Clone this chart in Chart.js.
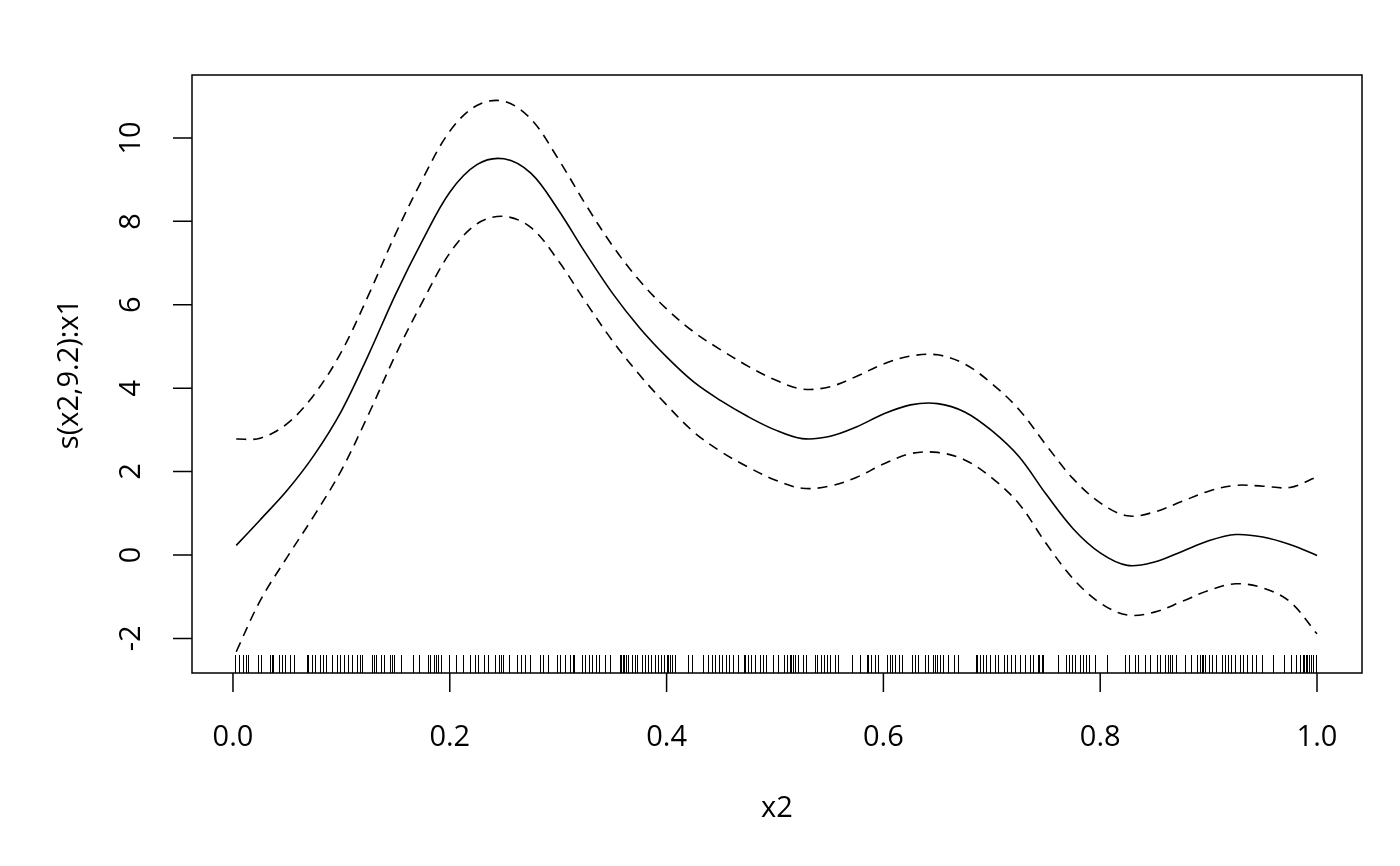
<!DOCTYPE html>
<html><head><meta charset="utf-8">
<script src="https://cdn.jsdelivr.net/npm/chart.js@4.4.0/dist/chart.umd.min.js"></script>
<style>html,body{margin:0;padding:0;background:#fff;overflow:hidden}#wrap{width:1400px;height:866px}</style>
</head><body><div id="wrap"><canvas id="c" width="1400" height="866"></canvas></div>
<script>
const xGrid = [0.003, 0.025, 0.05, 0.075, 0.1, 0.125, 0.15, 0.175, 0.2, 0.225, 0.25, 0.275, 0.3, 0.325, 0.35, 0.375, 0.4, 0.425, 0.45, 0.475, 0.5, 0.525, 0.55, 0.575, 0.6, 0.625, 0.65, 0.675, 0.7, 0.725, 0.75, 0.775, 0.8, 0.825, 0.85, 0.875, 0.9, 0.925, 0.95, 0.975, 1.0];
const fitValues = [0.23, 0.84, 1.55, 2.40, 3.45, 4.80, 6.25, 7.55, 8.70, 9.36, 9.50, 9.15, 8.28, 7.25, 6.28, 5.45, 4.75, 4.15, 3.70, 3.32, 3.00, 2.79, 2.84, 3.07, 3.38, 3.60, 3.63, 3.43, 2.98, 2.36, 1.46, 0.63, 0.05, -0.25, -0.17, 0.08, 0.34, 0.49, 0.43, 0.25, -0.01];
const upperValues = [2.78, 2.80, 3.15, 3.85, 4.87, 6.23, 7.70, 9.02, 10.16, 10.78, 10.88, 10.45, 9.50, 8.42, 7.42, 6.58, 5.90, 5.35, 4.92, 4.53, 4.20, 3.98, 4.03, 4.28, 4.58, 4.77, 4.80, 4.58, 4.11, 3.49, 2.64, 1.83, 1.25, 0.94, 1.03, 1.28, 1.53, 1.67, 1.65, 1.62, 1.87];
const lowerValues = [-2.32, -1.10, -0.05, 0.95, 2.03, 3.37, 4.80, 6.08, 7.24, 7.94, 8.12, 7.85, 7.06, 6.08, 5.14, 4.32, 3.60, 2.95, 2.48, 2.11, 1.80, 1.60, 1.65, 1.86, 2.18, 2.43, 2.46, 2.28, 1.85, 1.23, 0.28, -0.57, -1.15, -1.44, -1.37, -1.12, -0.85, -0.69, -0.79, -1.12, -1.89];
const rugX = [0.002, 0.006, 0.0095, 0.012, 0.014, 0.023, 0.026, 0.034, 0.036, 0.037, 0.042, 0.045, 0.048, 0.053, 0.056, 0.068, 0.069, 0.073, 0.076, 0.080, 0.083, 0.086, 0.091, 0.096, 0.099, 0.102, 0.106, 0.110, 0.114, 0.117,
0.119, 0.128, 0.130, 0.132, 0.137, 0.139, 0.145, 0.147, 0.149, 0.155, 0.166, 0.172, 0.180, 0.182, 0.185, 0.187, 0.189, 0.192, 0.199, 0.206, 0.212, 0.219, 0.223, 0.226, 0.232, 0.235, 0.242, 0.245,
0.247, 0.249, 0.255, 0.262, 0.266, 0.269, 0.274, 0.283, 0.286, 0.291, 0.299, 0.302, 0.306, 0.311, 0.314, 0.315, 0.322, 0.325, 0.328, 0.331, 0.335, 0.338, 0.343, 0.348, 0.357, 0.358, 0.360, 0.361, 0.363, 0.364, 0.368,
0.371, 0.373, 0.377, 0.380, 0.383, 0.386, 0.389, 0.392, 0.395, 0.398, 0.400, 0.401, 0.403, 0.405, 0.408, 0.420, 0.423, 0.434, 0.438, 0.442, 0.445, 0.448, 0.451, 0.455, 0.458, 0.461, 0.466, 0.471, 0.472, 0.475, 0.478, 0.482, 0.486, 0.489, 0.492,
0.498, 0.503, 0.508, 0.511, 0.514, 0.515, 0.517, 0.518, 0.521, 0.526, 0.529, 0.537, 0.539, 0.542, 0.545, 0.548, 0.551, 0.555, 0.558, 0.571, 0.578, 0.585, 0.586, 0.589, 0.592, 0.595, 0.603, 0.606, 0.608, 0.611, 0.614, 0.617,
0.626, 0.629, 0.632, 0.638, 0.641, 0.646, 0.648, 0.649, 0.652, 0.655, 0.660, 0.665, 0.669, 0.685, 0.686, 0.689, 0.692, 0.695, 0.698, 0.703, 0.706, 0.711, 0.714, 0.718, 0.721, 0.726, 0.731, 0.735, 0.738, 0.743,
0.744, 0.746, 0.747, 0.761, 0.768, 0.771, 0.774, 0.777, 0.781, 0.784, 0.787, 0.790, 0.795, 0.806, 0.823, 0.827, 0.832, 0.835, 0.841, 0.846, 0.852, 0.855, 0.860, 0.863, 0.864,
0.866, 0.870, 0.878, 0.884, 0.889, 0.892, 0.894, 0.895, 0.897, 0.900, 0.903, 0.907, 0.912, 0.915, 0.918, 0.921, 0.924, 0.929, 0.932, 0.935, 0.940, 0.944, 0.949, 0.959, 0.970, 0.976, 0.981, 0.984, 0.987, 0.988, 0.990, 0.991, 0.993, 0.994, 0.996, 0.999];
const xTicks = [0, 0.2, 0.4, 0.6, 0.8, 1.0];
const xTickLabels = ["0.0", "0.2", "0.4", "0.6", "0.8", "1.0"];
const yTicks = [-2, 0, 2, 4, 6, 8, 10];
const yTickLabels = ["-2", "0", "2", "4", "6", "8", "10"];
const xTitle = "x2";
const yTitle = "s(x2,9.2):x1";

const FONT = '29px "Open Sans"';

function pts(vals) { return xGrid.map((x, i) => ({ x: x, y: vals[i] })); }

const axesPlugin = {
  id: 'rAxes',
  beforeDraw(chart) {
    const ctx = chart.ctx;
    ctx.save();
    ctx.fillStyle = '#fff';
    ctx.fillRect(0, 0, chart.width, chart.height);
    ctx.restore();
  },
  afterDatasetsDraw(chart) {
    const ctx = chart.ctx, xs = chart.scales.x, a = chart.chartArea;
    ctx.save();
    ctx.strokeStyle = '#000';
    ctx.lineWidth = 1;
    ctx.beginPath();
    rugX.forEach(v => {
      const px = Math.round(xs.getPixelForValue(v)) + 0.5;
      ctx.moveTo(px, a.bottom - 18);
      ctx.lineTo(px, a.bottom);
    });
    ctx.stroke();
    ctx.restore();
  },
  afterDraw(chart) {
    const ctx = chart.ctx, xs = chart.scales.x, ys = chart.scales.y, a = chart.chartArea;
    ctx.save();
    ctx.strokeStyle = '#000';
    ctx.fillStyle = '#000';
    ctx.lineWidth = 1.5;
    ctx.strokeRect(a.left, a.top, a.right - a.left, a.bottom - a.top);
    ctx.font = FONT;
    ctx.textAlign = 'center';
    ctx.textBaseline = 'middle';
    ctx.beginPath();
    xTicks.forEach(v => {
      const px = xs.getPixelForValue(v);
      ctx.moveTo(px, a.bottom);
      ctx.lineTo(px, a.bottom + 19);
    });
    yTicks.forEach(v => {
      const py = ys.getPixelForValue(v);
      ctx.moveTo(a.left, py);
      ctx.lineTo(a.left - 19, py);
    });
    ctx.stroke();
    xTicks.forEach((v, i) => {
      ctx.fillText(xTickLabels[i], xs.getPixelForValue(v), 738);
    });
    yTicks.forEach((v, i) => {
      const py = ys.getPixelForValue(v);
      ctx.save();
      ctx.translate(132, py);
      ctx.rotate(-Math.PI / 2);
      ctx.fillText(yTickLabels[i], 0, 0);
      ctx.restore();
    });
    ctx.fillText(xTitle, (a.left + a.right) / 2, 809);
    ctx.save();
    ctx.translate(70, (a.top + a.bottom) / 2);
    ctx.rotate(-Math.PI / 2);
    ctx.fillText(yTitle, 0, 0);
    ctx.restore();
    ctx.restore();
  }
};

const common = { pointRadius: 0, borderColor: '#000', borderWidth: 1.6, fill: false, tension: 0.35 };

new Chart(document.getElementById('c'), {
  type: 'line',
  data: {
    datasets: [
      Object.assign({ label: 'fit', data: pts(fitValues) }, common),
      Object.assign({ label: 'upper', data: pts(upperValues), borderDash: [10, 7] }, common),
      Object.assign({ label: 'lower', data: pts(lowerValues), borderDash: [10, 7] }, common)
    ]
  },
  options: {
    responsive: false,
    animation: false,
    devicePixelRatio: 1,
    layout: { padding: { left: 192, right: 38, top: 75, bottom: 193 } },
    plugins: { legend: { display: false }, tooltip: { enabled: false } },
    scales: {
      x: { type: 'linear', min: -0.0378, max: 1.0415, display: false },
      y: { type: 'linear', min: -2.83, max: 11.51, display: false }
    }
  },
  plugins: [axesPlugin]
});
</script>
</body></html>
